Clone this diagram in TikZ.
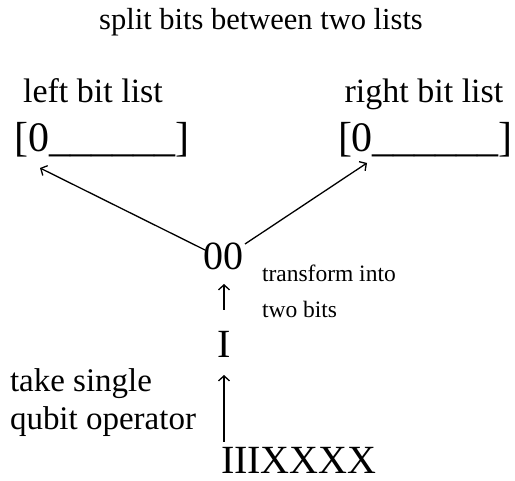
\documentclass[tikz,border=0pt]{standalone}
\usepackage{fontspec}
\setmainfont{Liberation Serif}
\usetikzlibrary{arrows.meta}
\begin{document}
\begin{tikzpicture}[x=1pt,y=1pt,
  txt/.style={inner sep=0pt,outer sep=0pt},
  arr/.style={line width=1.3pt,-{Straight Barb[length=5pt,width=11pt]}}]
\useasboundingbox (0,0) rectangle (515,-481);
\node[txt,anchor=base] (title) at (261,-30) {\fontsize{30.5}{32}\selectfont split bits between two lists};
\node[txt,anchor=base] (ll) at (93,-103) {\fontsize{34}{36}\selectfont left bit list};
\node[txt,anchor=base] (rl) at (424,-103) {\fontsize{34}{36}\selectfont right bit list};
\node[txt,anchor=base west] (lb) at (15,-152) {\fontsize{42}{44}\selectfont [0\_\_\_\_\_\_]};
\node[txt,anchor=base west] (rb) at (338,-152) {\fontsize{42}{44}\selectfont [0\_\_\_\_\_\_]};
\node[txt,anchor=base] (zz) at (223,-270) {\fontsize{40}{42}\selectfont 00};
\node[txt,anchor=base west,align=left,font=\fontsize{23.5}{36}\selectfont] (tr) at (262,-318) {transform into\\two bits};
\node[txt,anchor=base] (ii) at (224,-358) {\fontsize{40}{42}\selectfont I};
\node[txt,anchor=base west,text depth=0pt] (op) at (221,-474) {\fontsize{40}{42}\selectfont IIIXXXX};
\node[txt,anchor=base west,align=left,font=\fontsize{33}{38}\selectfont] (tk) at (10,-430) {take single\\qubit operator};
\coordinate (zl) at (205,-250);
\coordinate (zr) at (245,-244);
\coordinate (lt) at (40,-168);
\coordinate (rt) at (367,-163);
\coordinate (ib) at (224,-310);
\coordinate (it) at (224,-284);
\coordinate (ob) at (224,-442);
\coordinate (ot) at (224,-375);
\draw[arr] (zl) -- (lt);
\draw[arr] (zr) -- (rt);
\draw[arr] (ib) -- (it);
\draw[arr] (ob) -- (ot);
\end{tikzpicture}
\end{document}
